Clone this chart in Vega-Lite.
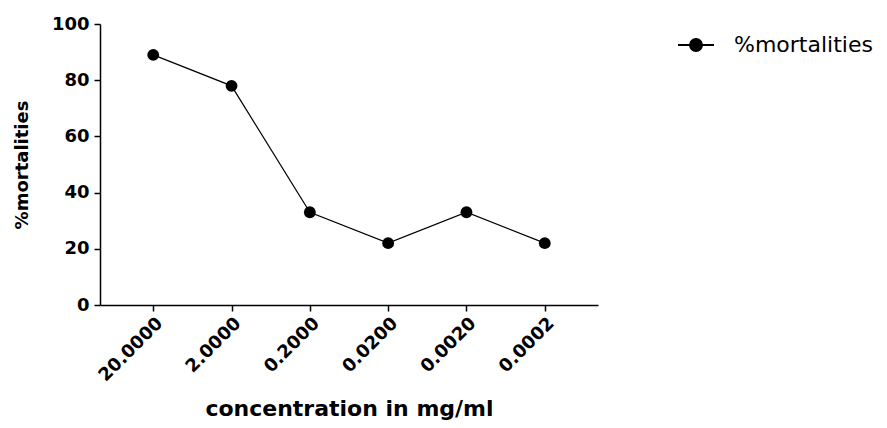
{
  "$schema": "https://vega.github.io/schema/vega-lite/v6.json",
  "autosize": {"type": "none"},
  "padding": {"left": 100, "top": 24, "right": 289, "bottom": 123},
  "width": 498,
  "height": 281,
  "background": "white",
  "config": {
    "view": {"stroke": null},
    "font": "DejaVu Sans",
    "axis": {"grid": false, "domainColor": "black", "tickColor": "black", "domainWidth": 1.5, "tickWidth": 1.5, "labelColor": "black", "titleColor": "black", "labelFont": "DejaVu Sans", "titleFont": "DejaVu Sans"}
  },
  "data": {
    "values": [
      {"concentration": "20.0000", "mortality": 89, "series": "%mortalities"},
      {"concentration": "2.0000", "mortality": 78, "series": "%mortalities"},
      {"concentration": "0.2000", "mortality": 33, "series": "%mortalities"},
      {"concentration": "0.0200", "mortality": 22, "series": "%mortalities"},
      {"concentration": "0.0020", "mortality": 33, "series": "%mortalities"},
      {"concentration": "0.0002", "mortality": 22, "series": "%mortalities"}
    ]
  },
  "encoding": {
    "x": {
      "field": "concentration", "type": "ordinal", "sort": null,
      "scale": {"type": "point", "padding": 0.68},
      "axis": {"title": "concentration in mg/ml", "labelAngle": -45, "labelFontSize": 18, "labelFontWeight": "bold", "tickSize": 6, "titleFontSize": 22, "titleFontWeight": "bold", "titlePadding": 14, "labelPadding": 3}
    },
    "y": {
      "field": "mortality", "type": "quantitative",
      "scale": {"domain": [0, 100], "nice": false},
      "axis": {"title": "%mortalities", "values": [0, 20, 40, 60, 80, 100], "labelFontSize": 18, "labelFontWeight": "bold", "tickSize": 6, "titleFontSize": 18, "titleFontWeight": "bold", "titlePadding": 20, "labelPadding": 5}
    },
    "color": {
      "field": "series", "type": "nominal",
      "scale": {"range": ["black"]},
      "legend": {
        "title": null, "orient": "none", "legendX": 577, "legendY": 2, "padding": 0,
        "symbolType": "M-1,0H1M-0.33,0A0.33,0.33 0 1,1 0.33,0A0.33,0.33 0 1,1 -0.33,0Z",
        "symbolSize": 1296, "symbolStrokeWidth": 2, "symbolFillColor": "black", "symbolStrokeColor": "#222",
        "labelFontSize": 22, "labelFont": "DejaVu Sans", "labelColor": "black", "labelOffset": 19
      }
    }
  },
  "layer": [
    {"mark": {"type": "line", "strokeWidth": 1.2, "color": "#222"}},
    {"mark": {"type": "point", "filled": true, "size": 140, "opacity": 1}}
  ]
}
